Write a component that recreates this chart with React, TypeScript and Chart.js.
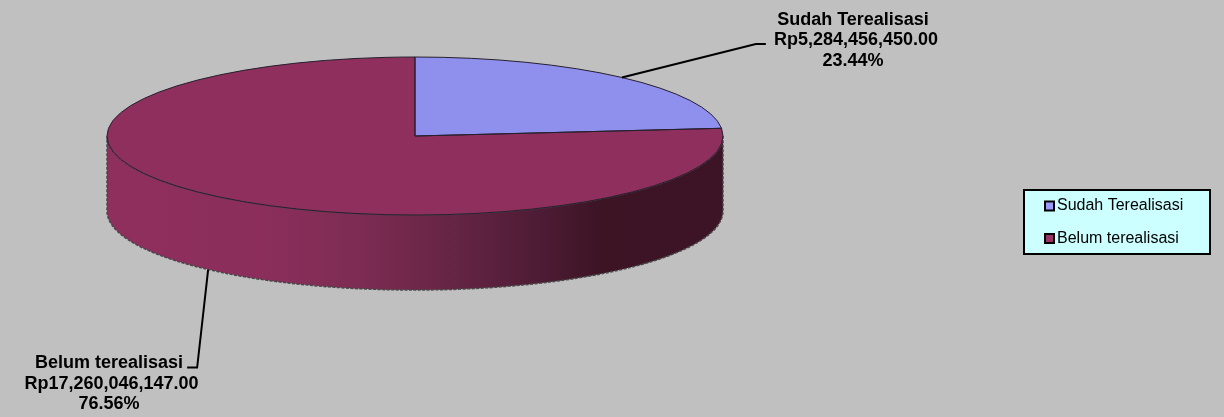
import React, { useEffect, useRef } from "react";
import { Chart, registerables } from "chart.js";

Chart.register(...registerables);

const categories = ["Sudah Terealisasi", "Belum terealisasi"];
const amounts = [5284456450, 17260046147];
const faceColors = ["#8F8FEE", "#8E2F5D"];
const legendColors = ["#9999FF", "#993366"];

const squash = 79 / 308;
const depth = 75;
const wallStops: [number, string][] = [
  [0, "#8F2F5D"],
  [0.25, "#8B2E5B"],
  [0.4, "#7E2C54"],
  [0.5, "#6F2849"],
  [0.6, "#5F2240"],
  [0.7, "#4E1C35"],
  [0.8, "#3C1424"],
  [1, "#3D1426"],
];

const labelOffsets = [
  { elbowDx: 134, elbowDy: -33.5, endDx: 10, textX: [853, 856, 853], textY: [20, 40.5, 61] },
  { elbowDx: -11, elbowDy: 98, endDx: -10, textX: [109, 111.5, 109], textY: [363.5, 384, 404.5] },
];

const fmtAmount = (v: number) =>
  "Rp" + v.toLocaleString("en-US", { minimumFractionDigits: 2, maximumFractionDigits: 2 });

const pie3d = {
  id: "pie3d",
  beforeDraw(chart: any) {
    const { ctx, width, height } = chart;
    ctx.save();
    ctx.fillStyle = "#C0C0C0";
    ctx.fillRect(0, 0, width, height);
    ctx.restore();
  },
  beforeDatasetsDraw(chart: any) {
    const { ctx } = chart;
    const arc = chart.getDatasetMeta(0).data[0];
    const cx = arc.x;
    const cy = arc.y;
    const rx = arc.outerRadius;
    const ry = rx * squash;
    const grad = ctx.createLinearGradient(cx - rx, 0, cx + rx, 0);
    wallStops.forEach(([p, c]) => grad.addColorStop(p, c));
    ctx.save();
    ctx.beginPath();
    ctx.ellipse(cx, cy, rx, ry, 0, 0, Math.PI);
    ctx.ellipse(cx, cy + depth, rx, ry, 0, Math.PI, 0, true);
    ctx.closePath();
    ctx.fillStyle = grad;
    ctx.fill();
    ctx.lineWidth = 1.5;
    ctx.strokeStyle = "#484848";
    ctx.setLineDash([3, 1.5]);
    ctx.stroke();
    ctx.restore();

    ctx.save();
    ctx.translate(cx, cy);
    ctx.scale(1, squash);
    ctx.translate(-cx, -cy);
  },
  afterDatasetsDraw(chart: any) {
    const { ctx } = chart;
    ctx.restore();
    const arcs = chart.getDatasetMeta(0).data;
    arcs.forEach((arc: any) => {
      const ry = arc.outerRadius * squash;
      ctx.save();
      ctx.beginPath();
      ctx.moveTo(arc.x, arc.y);
      ctx.ellipse(arc.x, arc.y, arc.outerRadius, ry, 0, arc.startAngle, arc.endAngle);
      ctx.closePath();
      ctx.lineWidth = 1;
      ctx.strokeStyle = "#26202e";
      ctx.stroke();
      ctx.restore();
    });
  },
  afterDraw(chart: any) {
    const { ctx } = chart;
    const arcs = chart.getDatasetMeta(0).data;
    const values: number[] = chart.data.datasets[0].data;
    const total = values.reduce((a, b) => a + b, 0);

    arcs.forEach((arc: any, i: number) => {
      const mid = (arc.startAngle + arc.endAngle) / 2;
      const ry = arc.outerRadius * squash;
      const sx = arc.x + arc.outerRadius * Math.cos(mid);
      const sin = Math.sin(mid);
      const sy = arc.y + ry * sin + (sin > 0 ? depth : 0);
      const o = labelOffsets[i];
      ctx.save();
      ctx.beginPath();
      ctx.moveTo(sx, sy);
      ctx.lineTo(sx + o.elbowDx, sy + o.elbowDy);
      ctx.lineTo(sx + o.elbowDx + o.endDx, sy + o.elbowDy);
      ctx.lineWidth = 2;
      ctx.strokeStyle = "#000";
      ctx.stroke();
      ctx.font = "bold 18px 'Liberation Sans'";
      ctx.fillStyle = "#000";
      ctx.textAlign = "center";
      ctx.textBaseline = "middle";
      const lines = [
        chart.data.labels[i],
        fmtAmount(values[i]),
        ((values[i] / total) * 100).toFixed(2) + "%",
      ];
      lines.forEach((t: string, k: number) => ctx.fillText(t, o.textX[k], o.textY[k]));
      ctx.restore();
    });

    // legend
    ctx.save();
    ctx.fillStyle = "#CCFFFF";
    ctx.fillRect(1024, 190, 186, 64);
    ctx.lineWidth = 2;
    ctx.strokeStyle = "#000";
    ctx.strokeRect(1024, 190, 186, 64);
    ctx.font = "16px 'Liberation Sans'";
    ctx.textBaseline = "middle";
    ctx.textAlign = "left";
    const rows = [206, 238.5];
    chart.data.labels.forEach((t: string, i: number) => {
      const y = rows[i];
      ctx.fillStyle = legendColors[i];
      ctx.fillRect(1045, y - 4.5, 9, 9);
      ctx.lineWidth = 2;
      ctx.strokeStyle = "#000";
      ctx.strokeRect(1045, y - 4.5, 9, 9);
      ctx.fillStyle = "#000";
      ctx.fillText(t, 1057, y);
    });
    ctx.restore();
  },
};

export default function App() {
  const ref = useRef<HTMLCanvasElement | null>(null);
  useEffect(() => {
    document.body.style.margin = "0";
    const chart = new Chart(ref.current as HTMLCanvasElement, {
      type: "pie",
      data: {
        labels: categories,
        datasets: [{ data: amounts, backgroundColor: faceColors, borderWidth: 0 }],
      },
      options: {
        animation: false,
        responsive: false,
        devicePixelRatio: 1,
        events: [],
        radius: 308,
        layout: { padding: { left: 0, top: 0, right: 394, bottom: 145 } },
        plugins: { legend: { display: false }, tooltip: { enabled: false } },
      } as any,
      plugins: [pie3d],
    });
    return () => chart.destroy();
  }, []);
  return <canvas ref={ref} width={1224} height={417} style={{ display: "block" }} />;
}
